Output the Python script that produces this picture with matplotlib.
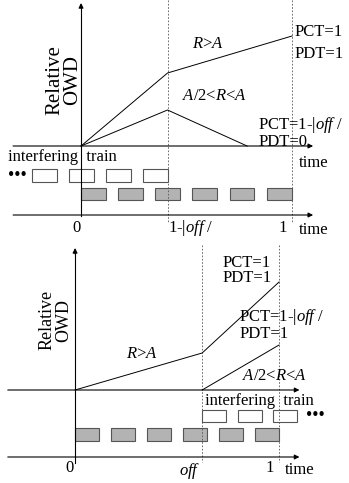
import matplotlib
matplotlib.use("Agg")
import matplotlib.pyplot as plt
from matplotlib.patches import Rectangle

plt.rcParams['font.family'] = ['Liberation Serif', 'DejaVu Serif']
plt.rcParams['mathtext.fontset'] = 'custom'
plt.rcParams['mathtext.rm'] = 'Liberation Serif'
plt.rcParams['mathtext.it'] = 'Liberation Serif:italic'

# --- top case: interfering train ends at 1-|off| ---
top_marks = [0, 0.41, 1.0]                 # 0, 1-|off|, 1
top_ra_t = [0, 0.41, 1.0]
top_ra_owd = [0, 0.73, 1.10]
top_mid_t = [0, 0.41, 0.787]
top_mid_owd = [0, 0.36, 0]
top_white = [-0.234, -0.058, 0.118, 0.294]
top_gray = [0, 0.176, 0.352, 0.528, 0.704, 0.88]

# --- bottom case: interfering train starts at off ---
bot_marks = [0, 0.623, 1.0]                # 0, off, 1
bot_ra_t = [0, 0.623, 1.0]
bot_ra_owd = [0, 0.37, 1.08]
bot_mid_t = [0.623, 1.0]
bot_mid_owd = [0, 0.45]
bot_white = [0.623, 0.797, 0.97]
bot_gray = [0, 0.176, 0.352, 0.528, 0.704, 0.88]

box_w = 0.118
box_h = 0.125
FS = 12

fig = plt.figure(figsize=(3.49, 4.83), dpi=100)


def arrow(ax, x0, y0, x1, y1):
    ax.annotate('', xy=(x1, y1), xytext=(x0, y0),
                arrowprops=dict(arrowstyle='-|>', lw=0.8, color='black',
                                mutation_scale=7, shrinkA=0, shrinkB=0))


def trains(ax, white, gray, y_white, y_gray):
    for s in white:
        ax.add_patch(Rectangle((s, y_white - box_h / 2), box_w, box_h,
                               facecolor='white', edgecolor='#555555', lw=0.8))
    for s in gray:
        ax.add_patch(Rectangle((s, y_gray - box_h / 2), box_w, box_h,
                               facecolor='#b3b3b3', edgecolor='#555555', lw=0.8))


# ================= top panel =================
ax = fig.add_axes([0, 243 / 483, 1, 240 / 483])
ax.set_xlim(-0.384, 1.270)
ax.set_ylim(-0.94, 1.46)
ax.axis('off')

y_time = -0.69
for m in top_marks[1:]:
    ax.plot([m, m], [1.46, -0.76], color='#555555', lw=0.6, ls=(0, (2, 2)))
ax.plot([0, 0], [-0.70, 1.40], color='black', lw=0.8)
arrow(ax, 0, 1.38, 0, 1.43)
arrow(ax, -0.322, 0, 1.10, 0)
arrow(ax, -0.322, y_time, 1.10, y_time)
ax.plot(top_ra_t, top_ra_owd, color='black', lw=0.7)
ax.plot(top_mid_t, top_mid_owd, color='black', lw=0.7)
trains(ax, top_white, top_gray, -0.295, -0.48)

ax.text(-0.125, 0.66, 'Relative', rotation=90, ha='center', va='center', fontsize=15)
ax.text(-0.04, 0.66, 'OWD', rotation=90, ha='center', va='center', fontsize=15)
ax.text(0.60, 0.98, '$R$>$A$', ha='center', va='baseline', fontsize=FS)
ax.text(0.635, 0.46, '$A$/2<$R$<$A$', ha='center', va='baseline', fontsize=FS)
ax.text(1.014, 1.10, 'PCT=1', ha='left', va='baseline', fontsize=FS)
ax.text(1.014, 0.88, 'PDT=1', ha='left', va='baseline', fontsize=FS)
ax.text(0.839, 0.17, r'PCT=1-|$off$ /', ha='left', va='baseline', fontsize=FS)
ax.text(0.839, 0.0, 'PDT=0', ha='left', va='baseline', fontsize=FS)
ax.text(1.033, -0.21, 'time', ha='left', va='baseline', fontsize=FS)
ax.text(-0.346, -0.15, 'interfering  train', ha='left', va='baseline', fontsize=FS)
ax.text(-0.30, -0.295, '\u2022\u2022\u2022', ha='center', va='center', fontsize=13)
ax.text(-0.02, -0.86, '0', ha='center', va='baseline', fontsize=FS)
ax.text(0.412, -0.86, r'1-|$off$ /', ha='left', va='baseline', fontsize=FS)
ax.text(0.957, -0.86, '1', ha='center', va='baseline', fontsize=FS)
ax.text(1.033, -0.88, 'time', ha='left', va='baseline', fontsize=FS)

# ================= bottom panel =================
ax = fig.add_axes([0, 0, 1, 243 / 483])
ax.set_xlim(-0.368, 1.343)
ax.set_ylim(-0.93, 1.50)
ax.axis('off')

y_time = -0.67
for m in bot_marks[1:]:
    ax.plot([m, m], [1.45, -0.72], color='#555555', lw=0.6, ls=(0, (2, 2)))
ax.plot([0, 0], [-0.73, 1.38], color='black', lw=0.8)
arrow(ax, 0, 1.36, 0, 1.42)
arrow(ax, -0.33, 0, 1.10, 0)
arrow(ax, -0.33, y_time, 1.10, y_time)
ax.plot(bot_ra_t, bot_ra_owd, color='black', lw=0.7)
ax.plot(bot_mid_t, bot_mid_owd, color='black', lw=0.7)
trains(ax, bot_white, bot_gray, -0.26, -0.445)

ax.text(-0.137, 0.70, 'Relative', rotation=90, ha='center', va='center', fontsize=13)
ax.text(-0.055, 0.70, 'OWD', rotation=90, ha='center', va='center', fontsize=13)
ax.text(0.725, 1.23, 'PCT=1', ha='left', va='baseline', fontsize=FS)
ax.text(0.725, 1.08, 'PDT=1', ha='left', va='baseline', fontsize=FS)
ax.text(0.804, 0.69, r'PCT=1-|$off$ /', ha='left', va='baseline', fontsize=FS)
ax.text(0.804, 0.52, 'PDT=1', ha='left', va='baseline', fontsize=FS)
ax.text(0.33, 0.32, '$R$>$A$', ha='center', va='baseline', fontsize=FS)
ax.text(0.82, 0.10, '$A$/2<$R$<$A$', ha='left', va='baseline', fontsize=FS)
ax.text(0.637, -0.15, 'interfering  train', ha='left', va='baseline', fontsize=FS)
ax.text(1.18, -0.26, '\u2022\u2022\u2022', ha='center', va='center', fontsize=13)
ax.text(-0.025, -0.82, '0', ha='center', va='baseline', fontsize=FS)
ax.text(0.56, -0.85, '$off$', ha='center', va='baseline', fontsize=FS)
ax.text(0.955, -0.82, '1', ha='center', va='baseline', fontsize=FS)
ax.text(1.03, -0.84, 'time', ha='left', va='baseline', fontsize=FS)

fig.savefig('out.png', dpi=100)
